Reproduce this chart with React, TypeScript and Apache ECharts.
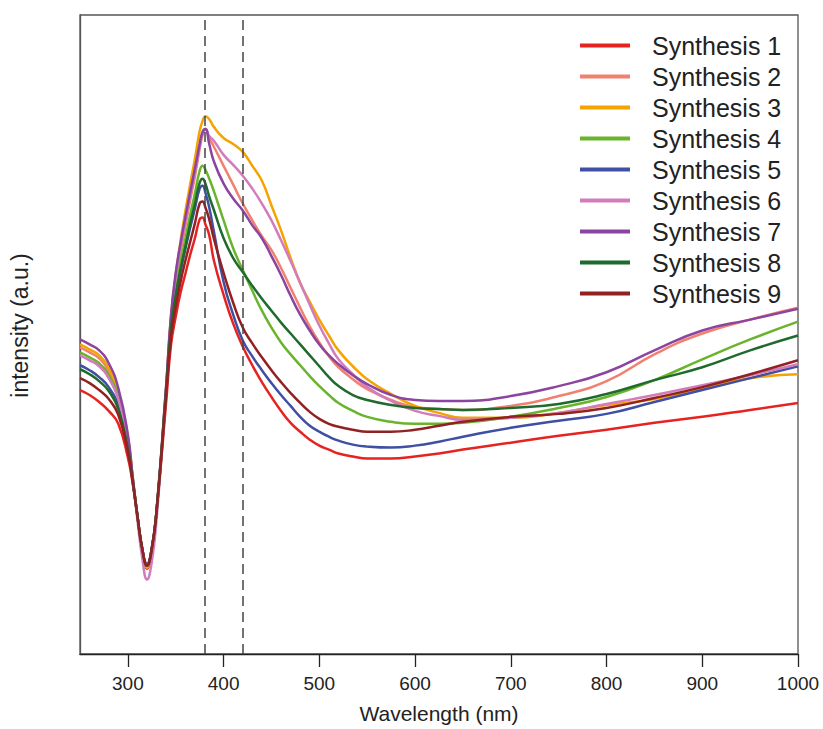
import React, { useEffect, useRef } from "react";
import * as echarts from "echarts";

const WAVELENGTHS = [250, 260, 270, 280, 290, 300, 305, 310, 315, 320, 325, 330, 340, 345, 350, 355, 360, 365, 370, 375, 378, 381, 385, 390, 400, 410, 420, 430, 440, 450, 460, 470, 480, 490, 500, 510, 520, 535, 550, 575, 600, 625, 650, 700, 750, 800, 850, 900, 950, 1000];

const SYNTH_1 = [266, 261, 254, 245, 232, 198, 172, 139, 104, 86, 103, 144, 254, 311, 340, 364, 383, 402, 419, 438, 440, 433, 422, 396, 362, 333, 310, 291, 274, 259, 245, 233, 224, 216, 210, 206, 202, 199, 197, 197, 199, 202, 206, 213, 220, 226, 233, 239, 246, 253];
const SYNTH_2 = [309, 304, 298, 285, 262, 217, 178, 139, 106, 89, 106, 144, 269, 336, 375, 405, 431, 457, 481, 509, 523, 529, 520, 511, 492, 473, 454, 437, 421, 407, 389, 369, 349, 330, 314, 300, 289, 277, 267, 256, 249, 247, 246, 250, 260, 275, 302, 323, 337, 349];
const SYNTH_3 = [312, 307, 301, 288, 264, 219, 178, 139, 106, 87, 105, 144, 269, 339, 382, 416, 446, 473, 499, 527, 537, 542, 539, 531, 520, 514, 506, 492, 477, 452, 427, 399, 374, 355, 337, 321, 306, 290, 277, 262, 250, 243, 238, 238, 243, 251, 257, 268, 278, 282];
const SYNTH_4 = [304, 299, 293, 281, 259, 215, 177, 139, 106, 89, 106, 144, 267, 330, 365, 394, 418, 442, 464, 487, 492, 488, 479, 466, 437, 409, 387, 366, 346, 329, 314, 302, 291, 280, 270, 261, 253, 245, 239, 234, 232, 232, 233, 239, 248, 259, 276, 297, 317, 335];
const SYNTH_5 = [291, 286, 279, 269, 250, 209, 175, 139, 106, 89, 106, 144, 264, 325, 358, 385, 408, 429, 449, 469, 472, 465, 450, 425, 375, 342, 316, 300, 286, 273, 261, 250, 239, 230, 224, 219, 215, 211, 209, 208, 210, 214, 219, 228, 235, 242, 254, 266, 278, 290];
const SYNTH_6 = [301, 296, 290, 278, 257, 214, 177, 135, 97, 75, 93, 136, 266, 337, 380, 410, 436, 461, 485, 512, 525, 529, 522, 517, 503, 493, 482, 469, 454, 437, 417, 396, 374, 352, 331, 313, 297, 282, 269, 255, 245, 240, 236, 238, 243, 252, 261, 271, 281, 292];
const SYNTH_7 = [317, 312, 306, 293, 268, 221, 179, 139, 106, 91, 107, 146, 271, 341, 384, 414, 440, 465, 489, 514, 526, 529, 514, 496, 474, 459, 447, 432, 419, 401, 382, 361, 342, 326, 312, 301, 292, 281, 272, 261, 256, 255, 255, 260, 270, 284, 306, 326, 337, 348];
const SYNTH_8 = [287, 282, 275, 265, 247, 207, 175, 139, 106, 89, 106, 144, 266, 328, 362, 388, 410, 433, 454, 475, 479, 474, 461, 447, 419, 399, 385, 371, 358, 346, 334, 323, 312, 301, 290, 279, 270, 261, 256, 251, 248, 247, 246, 248, 252, 262, 276, 289, 306, 321];
const SYNTH_9 = [278, 273, 266, 257, 241, 204, 174, 139, 106, 89, 106, 144, 261, 319, 350, 375, 396, 415, 434, 454, 456, 450, 438, 418, 384, 354, 329, 313, 299, 286, 274, 263, 253, 244, 237, 232, 229, 226, 224, 224, 226, 230, 234, 239, 242, 248, 258, 269, 282, 296];

const SERIES_NAMES = ["Synthesis 1", "Synthesis 2", "Synthesis 3", "Synthesis 4", "Synthesis 5", "Synthesis 6", "Synthesis 7", "Synthesis 8", "Synthesis 9"];
const SERIES_VALUES = [SYNTH_1, SYNTH_2, SYNTH_3, SYNTH_4, SYNTH_5, SYNTH_6, SYNTH_7, SYNTH_8, SYNTH_9];
const COLORS = ["#e52421", "#f2806f", "#f5a300", "#6ab42d", "#3f4fa3", "#d27cbc", "#8b449f", "#1f6b2e", "#922121"];

const X_TICKS = [300, 400, 500, 600, 700, 800, 900, 1000];
const MARKERS = [380, 420];

const FONT = "'Liberation Sans', Arial, Helvetica, sans-serif";

export default function App() {
  const ref = useRef<HTMLDivElement>(null);
  useEffect(() => {
    if (!ref.current) return;
    const chart = echarts.init(ref.current, undefined, { renderer: "svg" });
    const series: any[] = SERIES_NAMES.map((name, idx) => ({
      name,
      type: "line",
      data: WAVELENGTHS.map((w, i) => [w, SERIES_VALUES[idx][i]]),
      showSymbol: false,
      symbol: "none",
      smooth: 0.5,
      lineStyle: { color: COLORS[idx], width: 2.5 },
      itemStyle: { color: COLORS[idx] },
      z: 2,
    }));
    series[series.length - 1].markLine = {
      silent: true,
      symbol: ["none", "none"],
      label: { show: false },
      lineStyle: { type: [10, 6], color: "#444", width: 1.5 },
      data: MARKERS.map((m) => ({ xAxis: m })),
      z: 5,
    };
    chart.setOption({
      animation: false,
      backgroundColor: "#ffffff",
      grid: {
        left: 79,
        right: 25,
        top: 15,
        bottom: 70,
        show: true,
        borderColor: "#555",
        borderWidth: 1.3,
      },
      legend: {
        orient: "vertical",
        left: 580,
        top: 33,
        padding: 0,
        icon: "rect",
        itemWidth: 50,
        itemHeight: 4,
        itemGap: 6,
        data: SERIES_NAMES,
        textStyle: {
          fontSize: 25,
          lineHeight: 24,
          color: "#222",
          fontFamily: FONT,
          padding: [0, 0, 0, 17],
        },
      },
      xAxis: {
        type: "value",
        min: 250,
        max: 1000,
        name: "Wavelength (nm)",
        nameLocation: "middle",
        nameGap: 49,
        nameTextStyle: { fontSize: 21, color: "#222", fontFamily: FONT },
        axisLine: { show: true, lineStyle: { color: "#222", width: 1.3 } },
        axisTick: {
          show: true,
          length: 13,
          customValues: X_TICKS,
          lineStyle: { color: "#222", width: 1.3 },
        },
        axisLabel: {
          customValues: X_TICKS,
          margin: 20,
          fontSize: 19,
          color: "#222",
          fontFamily: FONT,
          formatter: (v: number) => String(v),
        },
        splitLine: { show: false },
      },
      yAxis: {
        type: "value",
        min: 0,
        max: 644,
        name: "intensity (a.u.)",
        nameLocation: "middle",
        nameGap: 49,
        nameTextStyle: { fontSize: 23, color: "#222", fontFamily: FONT, padding: [0, 0, 0, 18] },
        axisLine: { show: true, lineStyle: { color: "#555", width: 1.3 } },
        axisTick: { show: false },
        axisLabel: { show: false },
        splitLine: { show: false },
      },
      series,
    });
    return () => chart.dispose();
  }, []);
  return (
    <div
      ref={ref}
      style={{ position: "absolute", left: 0, top: 0, width: 823, height: 729 }}
    />
  );
}
